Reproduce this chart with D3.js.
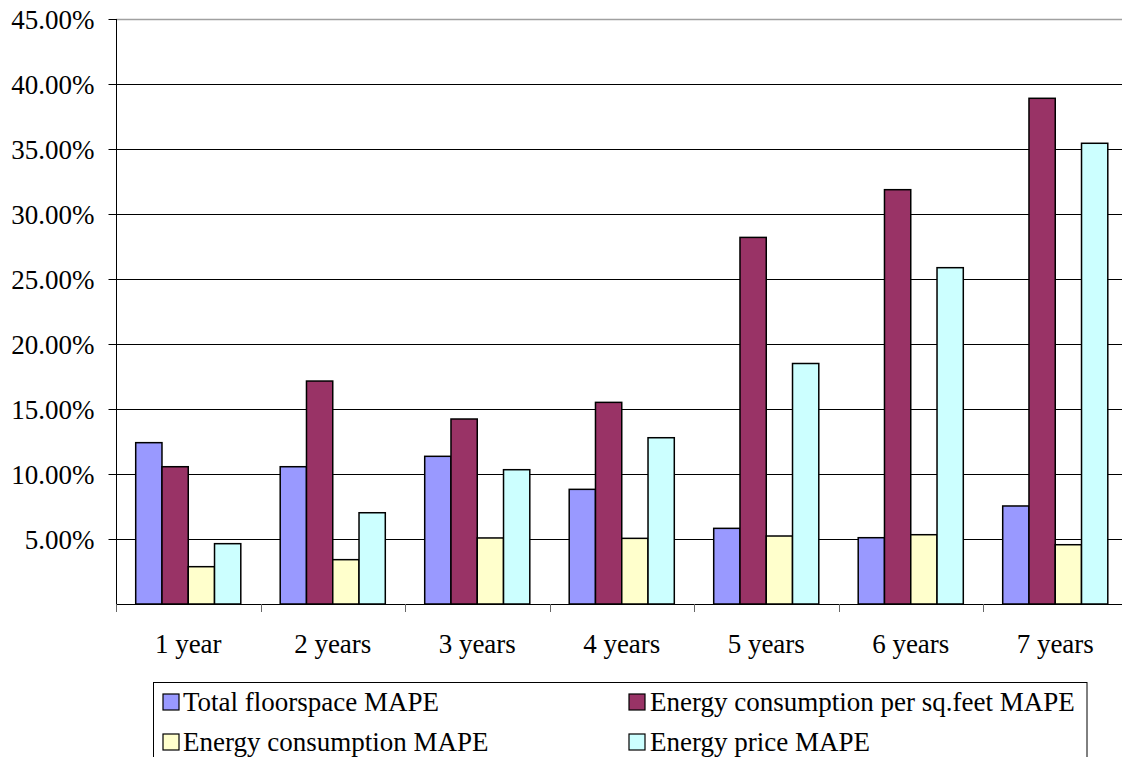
<!DOCTYPE html>
<html>
<head>
<meta charset="utf-8">
<script src="https://cdn.jsdelivr.net/npm/d3@7"></script>
<style>
html,body{margin:0;padding:0;background:#fff;overflow:hidden;}
</style>
</head>
<body>
<script>
const categories = ["1 year","2 years","3 years","4 years","5 years","6 years","7 years"];
const seriesNames = ["Total floorspace MAPE","Energy consumption per sq.feet MAPE","Energy consumption MAPE","Energy price MAPE"];
const totalFloorspace = [0.1241, 0.1056, 0.1136, 0.0882, 0.0582, 0.0510, 0.0754];
const energyPerSqFeet = [0.1056, 0.1715, 0.1423, 0.1551, 0.2820, 0.3187, 0.3890];
const energyConsumption = [0.0287, 0.0341, 0.0508, 0.0505, 0.0523, 0.0533, 0.0456];
const energyPrice = [0.0464, 0.0702, 0.1033, 0.1279, 0.1850, 0.2587, 0.3544];
const yTicks = [0.05,0.10,0.15,0.20,0.25,0.30,0.35,0.40,0.45];
const colors = ["#9999FF","#993366","#FFFFCC","#CCFFFF"];

const W = 1122, H = 757;
const plotLeft = 116, plotTop = 19, plotBottom = 604;
const plotRight = plotLeft + 144.5*categories.length;

const svg = d3.select("body").append("svg").attr("width",W).attr("height",H).style("display","block");

const x = d3.scaleBand().domain(categories).range([plotLeft,plotRight]).paddingInner(0).paddingOuter(0);
const xs = d3.scaleBand().domain(seriesNames).range([0,x.bandwidth()]).paddingInner(0).paddingOuter(0.75);
const y = d3.scaleLinear().domain([0,0.45]).range([plotBottom,plotTop]);

const allSeries = [totalFloorspace, energyPerSqFeet, energyConsumption, energyPrice];

// gridlines
svg.append("g").selectAll("line").data(yTicks).join("line")
  .attr("x1",plotLeft).attr("x2",plotRight)
  .attr("y1",d=>Math.round(y(d))+0.5).attr("y2",d=>Math.round(y(d))+0.5)
  .attr("stroke",d=>d===0.45?"#a0a0a0":"#000").attr("stroke-width",d=>d===0.45?1.5:1);

// y axis
const yAxis = d3.axisLeft(y).tickValues(yTicks).tickFormat(d3.format(".2%")).tickSize(8).tickPadding(14);
const gy = svg.append("g").attr("transform",`translate(${plotLeft+0.5},0)`).call(yAxis);
gy.attr("font-family",null).attr("font-size",null);
gy.select(".domain").attr("d",`M0,${plotTop}V${plotBottom}`).attr("stroke","#000");
gy.selectAll(".tick line").attr("stroke","#000");
gy.selectAll(".tick text").attr("fill","#000").attr("dy","0.36em");

// bars
const groups = svg.append("g").selectAll("g").data(categories).join("g")
  .attr("transform",d=>`translate(${x(d)},0)`);
groups.selectAll("rect").data((c,i)=>seriesNames.map((s,j)=>({s,j,v:allSeries[j][i]}))).join("rect")
  .attr("x",d=>xs(d.s)).attr("width",xs.bandwidth())
  .attr("y",d=>y(d.v)).attr("height",d=>y(0)-y(d.v))
  .attr("fill",d=>colors[d.j]).attr("stroke","#000").attr("stroke-width",1.5);

// x axis
const xAxis = d3.axisBottom(x).tickSize(0).tickPadding(0);
const gx = svg.append("g").attr("transform",`translate(0,${plotBottom+0.5})`).call(xAxis);
gx.attr("font-family",null).attr("font-size",null);
gx.select(".domain").attr("d",`M${plotLeft},0H${plotRight}`).attr("stroke","#000");
gx.selectAll(".tick text").attr("fill","#000").attr("dy",null).attr("y",48);
// category boundary ticks
const bounds = categories.map(c=>x(c)).concat([plotRight]);
svg.append("g").selectAll("line").data(bounds).join("line")
  .attr("x1",d=>Math.round(d)+0.5).attr("x2",d=>Math.round(d)+0.5)
  .attr("y1",plotBottom).attr("y2",plotBottom+8).attr("stroke","#666").attr("stroke-width",1);

// legend
const lg = svg.append("g");
lg.append("rect").attr("x",153.5).attr("y",682.5).attr("width",1087-153.5).attr("height",120)
  .attr("fill","#fff").attr("stroke","#000").attr("stroke-width",1);
const legPos = [[163,702],[629,702],[163,742],[629,742]];
const items = lg.selectAll("g.item").data(seriesNames).join("g").attr("class","item")
  .attr("transform",(d,i)=>`translate(${legPos[i][0]},${legPos[i][1]})`);
items.append("rect").attr("x",0).attr("y",-8).attr("width",16).attr("height",16)
  .attr("fill",(d,i)=>colors[i]).attr("stroke","#000").attr("stroke-width",1.2);
items.append("text").attr("x",(d,i)=>i%2===0?20:21).attr("y",9).attr("fill","#000")
  .text(d=>d);

// font for every text
svg.selectAll("text").style("font-family","'Liberation Serif'").style("font-size","27px");
</script>
</body>
</html>
